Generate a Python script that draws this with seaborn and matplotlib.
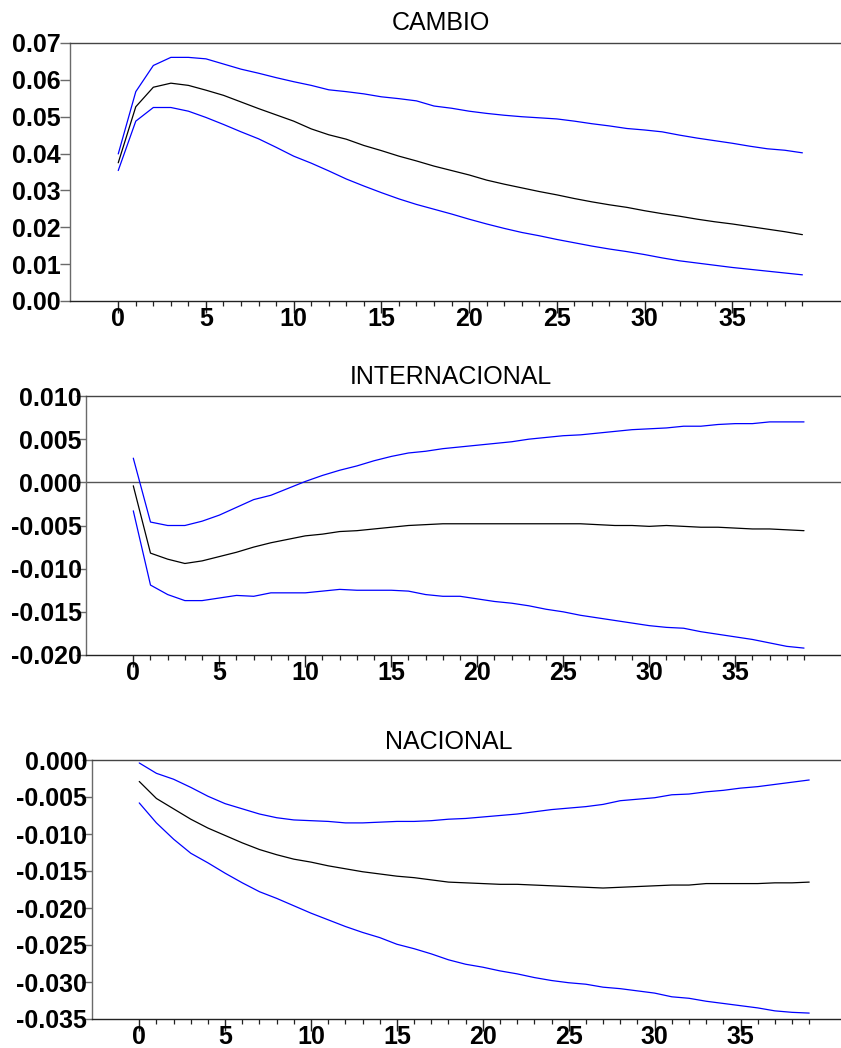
import numpy as np
import pandas as pd
import matplotlib
matplotlib.use("Agg")
import matplotlib.pyplot as plt
import seaborn as sns
from matplotlib.ticker import FormatStrFormatter

# ---------------- data ----------------
periods = list(range(40))

cambio_resp = [0.0375, 0.0527, 0.0580, 0.0591, 0.0585, 0.0572, 0.0558, 0.0540, 0.0522, 0.0505,
               0.0488, 0.0467, 0.0451, 0.0439, 0.0422, 0.0408, 0.0393, 0.0380, 0.0366, 0.0354,
               0.0342, 0.0328, 0.0317, 0.0307, 0.0297, 0.0288, 0.0278, 0.0269, 0.0261, 0.0254,
               0.0245, 0.0237, 0.0230, 0.0222, 0.0215, 0.0209, 0.0202, 0.0195, 0.0188, 0.0180]
cambio_upper = [0.0399, 0.0568, 0.0639, 0.0661, 0.0661, 0.0657, 0.0643, 0.0629, 0.0618, 0.0606,
                0.0595, 0.0585, 0.0573, 0.0568, 0.0562, 0.0554, 0.0549, 0.0543, 0.0529, 0.0523,
                0.0515, 0.0509, 0.0504, 0.0500, 0.0497, 0.0494, 0.0488, 0.0481, 0.0475, 0.0468,
                0.0464, 0.0459, 0.0450, 0.0442, 0.0435, 0.0428, 0.0420, 0.0413, 0.0409, 0.0402]
cambio_lower = [0.0354, 0.0488, 0.0525, 0.0525, 0.0515, 0.0498, 0.0479, 0.0459, 0.0440, 0.0417,
                0.0393, 0.0374, 0.0353, 0.0331, 0.0312, 0.0294, 0.0277, 0.0262, 0.0249, 0.0236,
                0.0222, 0.0209, 0.0197, 0.0186, 0.0177, 0.0167, 0.0158, 0.0149, 0.0141, 0.0134,
                0.0126, 0.0117, 0.0109, 0.0103, 0.0097, 0.0091, 0.0086, 0.0081, 0.0076, 0.0071]

inter_resp = [-0.0004, -0.0082, -0.0089, -0.0094, -0.0091, -0.0086, -0.0081, -0.0075, -0.0070, -0.0066,
              -0.0062, -0.0060, -0.0057, -0.0056, -0.0054, -0.0052, -0.0050, -0.0049, -0.0048, -0.0048,
              -0.0048, -0.0048, -0.0048, -0.0048, -0.0048, -0.0048, -0.0048, -0.0049, -0.0050, -0.0050,
              -0.0051, -0.0050, -0.0051, -0.0052, -0.0052, -0.0053, -0.0054, -0.0054, -0.0055, -0.0056]
inter_upper = [0.0028, -0.0046, -0.0050, -0.0050, -0.0045, -0.0038, -0.0029, -0.0020, -0.0015, -0.0007,
               0.0001, 0.0008, 0.0014, 0.0019, 0.0025, 0.0030, 0.0034, 0.0036, 0.0039, 0.0041,
               0.0043, 0.0045, 0.0047, 0.0050, 0.0052, 0.0054, 0.0055, 0.0057, 0.0059, 0.0061,
               0.0062, 0.0063, 0.0065, 0.0065, 0.0067, 0.0068, 0.0068, 0.0070, 0.0070, 0.0070]
inter_lower = [-0.0033, -0.0119, -0.0130, -0.0137, -0.0137, -0.0134, -0.0131, -0.0132, -0.0128, -0.0128,
               -0.0128, -0.0126, -0.0124, -0.0125, -0.0125, -0.0125, -0.0126, -0.0130, -0.0132, -0.0132,
               -0.0135, -0.0138, -0.0140, -0.0143, -0.0147, -0.0150, -0.0154, -0.0157, -0.0160, -0.0163,
               -0.0166, -0.0168, -0.0169, -0.0173, -0.0176, -0.0179, -0.0182, -0.0186, -0.0190, -0.0192]

nac_resp = [-0.0029, -0.0052, -0.0066, -0.0080, -0.0092, -0.0102, -0.0112, -0.0121, -0.0128, -0.0134,
            -0.0138, -0.0143, -0.0147, -0.0151, -0.0154, -0.0157, -0.0159, -0.0162, -0.0165, -0.0166,
            -0.0167, -0.0168, -0.0168, -0.0169, -0.0170, -0.0171, -0.0172, -0.0173, -0.0172, -0.0171,
            -0.0170, -0.0169, -0.0169, -0.0167, -0.0167, -0.0167, -0.0167, -0.0166, -0.0166, -0.0165]
nac_upper = [-0.0004, -0.0018, -0.0026, -0.0037, -0.0049, -0.0059, -0.0066, -0.0073, -0.0078, -0.0081,
             -0.0082, -0.0083, -0.0085, -0.0085, -0.0084, -0.0083, -0.0083, -0.0082, -0.0080, -0.0079,
             -0.0077, -0.0075, -0.0073, -0.0070, -0.0067, -0.0065, -0.0063, -0.0060, -0.0055, -0.0053,
             -0.0051, -0.0047, -0.0046, -0.0043, -0.0041, -0.0038, -0.0036, -0.0033, -0.0030, -0.0027]
nac_lower = [-0.0058, -0.0085, -0.0107, -0.0126, -0.0139, -0.0153, -0.0166, -0.0178, -0.0187, -0.0197,
             -0.0207, -0.0216, -0.0225, -0.0233, -0.0240, -0.0249, -0.0255, -0.0262, -0.0270, -0.0276,
             -0.0280, -0.0285, -0.0289, -0.0294, -0.0298, -0.0301, -0.0303, -0.0307, -0.0309, -0.0312,
             -0.0315, -0.0320, -0.0322, -0.0326, -0.0329, -0.0332, -0.0335, -0.0339, -0.0341, -0.0342]

titles = ["CAMBIO", "INTERNACIONAL", "NACIONAL"]
y_ticks = [np.arange(0.0, 0.0701, 0.01), np.arange(-0.020, 0.0101, 0.005), np.arange(-0.035, 0.0001, 0.005)]
y_fmt = ["%.2f", "%.3f", "%.3f"]
x_major = [0, 5, 10, 15, 20, 25, 30, 35]

# ---------------- style ----------------
sns.set_theme(style="white")
plt.rcParams["font.family"] = ["Liberation Sans", "DejaVu Sans"]
plt.rcParams["axes.unicode_minus"] = False

fig = plt.figure(figsize=(8.41, 10.48), dpi=100)

rects = [
    (70 / 841, 1 - 301 / 1048, 1 - 70 / 841, 258 / 1048),
    (86 / 841, 1 - 655 / 1048, 1 - 86 / 841, 259 / 1048),
    (92 / 841, 1 - 1019 / 1048, 1 - 92 / 841, 259 / 1048),
]
xlims = [(-2.75, 41.2), (-2.75, 41.15), (-2.75, 40.85)]
ylabel_pads = [-1.0, -4.6, -3.9]
title_pos = [(441, 23), (451, 377), (449, 742)]

series = [
    (cambio_resp, cambio_upper, cambio_lower),
    (inter_resp, inter_upper, inter_lower),
    (nac_resp, nac_upper, nac_lower),
]

for i, (resp, up, lo) in enumerate(series):
    ax = fig.add_axes(rects[i])
    df = pd.DataFrame({"period": periods, "resp": resp, "upper": up, "lower": lo})
    sns.lineplot(data=df, x="period", y="upper", ax=ax, color="#0000ff", linewidth=0.9)
    sns.lineplot(data=df, x="period", y="lower", ax=ax, color="#0000ff", linewidth=0.9)
    sns.lineplot(data=df, x="period", y="resp", ax=ax, color="black", linewidth=0.9)
    if i == 1:
        ax.axhline(0, color="#555555", linewidth=1.0, zorder=0)

    ax.set_xlim(*xlims[i])
    ax.set_ylim(y_ticks[i][0], y_ticks[i][-1])
    ax.set_yticks(y_ticks[i])
    ax.yaxis.set_major_formatter(FormatStrFormatter(y_fmt[i]))
    ax.set_xticks(x_major)
    ax.set_xticks(periods, minor=True)
    ax.set_xlabel("")
    ax.set_ylabel("")

    ax.spines["right"].set_visible(False)
    ax.spines["left"].set_color("#6a6a6a")
    ax.spines["top"].set_color("#444444")
    ax.spines["bottom"].set_color("#222222")
    for s in ["left", "top", "bottom"]:
        ax.spines[s].set_linewidth(1.0)

    ax.tick_params(axis="x", which="major", direction="out", length=8.5, width=1.0,
                   color="#222222", bottom=True, pad=-4, labelsize=18)
    ax.tick_params(axis="x", which="minor", direction="out", length=3.5, width=0.9,
                   color="#222222", bottom=True)
    ax.tick_params(axis="y", which="major", direction="out", length=7.5, width=1.0,
                   color="#6a6a6a", left=True, pad=ylabel_pads[i], labelsize=18)
    for lab in ax.get_xticklabels() + ax.get_yticklabels():
        lab.set_fontweight("bold")
        lab.set_color("black")

    fig.text(title_pos[i][0] / 841, 1 - title_pos[i][1] / 1048, titles[i],
             ha="center", va="center", fontsize=18, color="black")

fig.savefig("out.png", dpi=100)
